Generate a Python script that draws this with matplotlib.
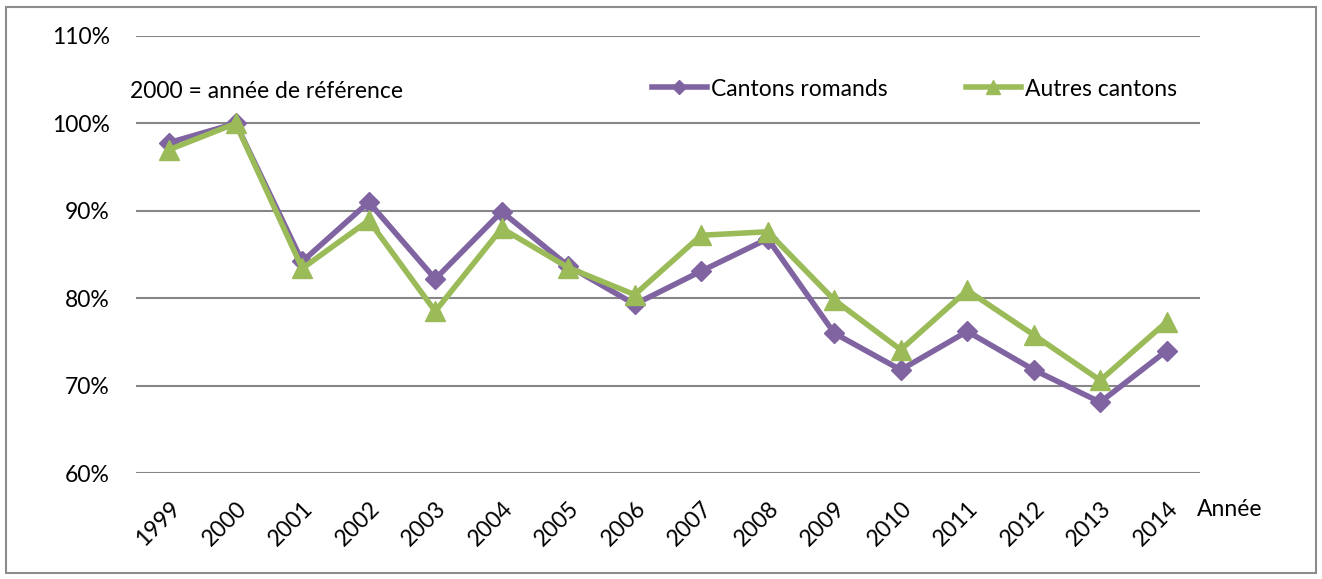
import matplotlib
matplotlib.use("Agg")
import matplotlib.pyplot as plt
from matplotlib.patches import Rectangle
from matplotlib.ticker import FuncFormatter

plt.rcParams['font.family'] = ['Lato', 'DejaVu Sans']

years = [str(y) for y in range(1999, 2015)]
romands = [97.8, 100.0, 84.2, 91.0, 82.2, 89.9, 83.7, 79.3, 83.1, 86.8, 76.0, 71.8, 76.2, 71.8, 68.1, 74.0]
autres = [97.0, 100.0, 83.4, 88.9, 78.5, 88.0, 83.5, 80.4, 87.2, 87.6, 79.8, 74.1, 80.9, 75.8, 70.6, 77.3]

purple = '#8064A2'
green = '#9BBB59'
grid = '#868686'
fs = 16.5

fig = plt.figure(figsize=(13.22, 5.79), dpi=100)
W, H = 1322, 579
ax = fig.add_axes([136 / W, 106 / H, (1200 - 136) / W, (473 - 36) / H])

x = list(range(len(years)))
ax.plot(x, romands, color=purple, lw=4, marker='D', ms=10.5, label='Cantons romands', zorder=3)
ax.plot(x, autres, color=green, lw=4, marker='^', ms=14, label='Autres cantons', zorder=4)

ax.set_xlim(-0.5, len(years) - 0.5)
ax.set_ylim(60, 110)
ax.set_yticks(range(60, 111, 10))
ax.yaxis.set_major_formatter(FuncFormatter(lambda v, p: f"{v:.0f}%"))
ax.grid(axis='y', color=grid, lw=1.5)
ax.set_axisbelow(True)
for s in ax.spines.values():
    s.set_visible(False)
ax.tick_params(axis='both', length=0, labelsize=fs)
ax.tick_params(axis='y', pad=19)
ax.tick_params(axis='x', pad=18)
ax.set_xticks(x)
ax.set_xticklabels(years, rotation=45, ha='right', va='top', rotation_mode='anchor')

fig.text(1197 / W, 1 - 510 / H, 'Année', fontsize=fs, va='center', ha='left')
fig.text(130 / W, 1 - 91 / H, '2000 = année de référence', fontsize=fs, va='center', ha='left')

ax.legend(ncol=2, frameon=False, fontsize=fs, loc='center left',
          bbox_to_anchor=(631 / W, 1 - 89 / H), bbox_transform=fig.transFigure,
          handlelength=2.4, handletextpad=0.2, columnspacing=3.4, markerscale=0.7)

fig.patches.append(Rectangle((6 / W, 6 / H), 1 - 12 / W, 1 - 13 / H, transform=fig.transFigure,
                             fill=False, edgecolor='#8c8c8c', lw=1.5))

fig.savefig('out.png', dpi=100)
